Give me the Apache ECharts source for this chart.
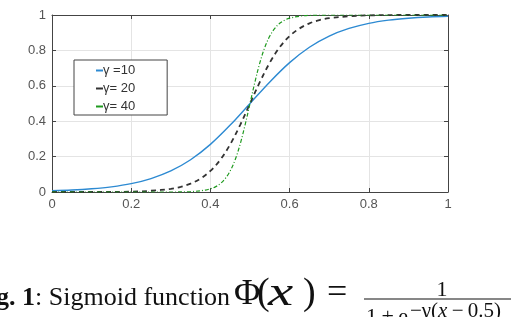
<!DOCTYPE html>
<html>
<head>
<meta charset="utf-8">
<script src="https://cdn.jsdelivr.net/npm/echarts@6/dist/echarts.min.js"></script>
<style>
html,body{margin:0;padding:0;background:#fff;}
#c{width:526px;height:317px;}
</style>
</head>
<body>
<div id="c"></div>
<script>
// ---- data ----
const xTicks = [0, 0.2, 0.4, 0.6, 0.8, 1];
const yTicks = [0, 0.2, 0.4, 0.6, 0.8, 1];
const seriesNames = ['\u03b3 =10', '\u03b3= 20', '\u03b3= 40'];

const x10 = [0,0.05,0.1,0.15,0.2,0.25,0.3,0.35,0.4,0.45,0.5,0.55,0.6,0.65,0.7,0.75,0.8,0.85,0.9,0.95,1];
const y10 = [0.007,0.011,0.018,0.029,0.047,0.076,0.119,0.182,0.269,0.378,0.5,0.622,0.731,0.818,0.881,0.924,0.953,0.971,0.982,0.989,0.993];

const x20 = [0,0.1,0.2,0.25,0.3,0.325,0.35,0.375,0.4,0.425,0.45,0.475,0.5,0.525,0.55,0.575,0.6,0.625,0.65,0.675,0.7,0.75,0.8,0.9,1];
const y20 = [0,0,0.002,0.007,0.018,0.029,0.047,0.076,0.119,0.182,0.269,0.378,0.5,0.622,0.731,0.818,0.881,0.924,0.953,0.971,0.982,0.993,0.998,1,1];

const x40 = [0,0.2,0.3,0.35,0.375,0.3875,0.4,0.4125,0.425,0.4375,0.45,0.4625,0.475,0.4875,0.5,0.5125,0.525,0.5375,0.55,0.5625,0.575,0.5875,0.6,0.625,0.65,0.7,0.8,1];
const y40 = [0,0,0,0.002,0.007,0.011,0.018,0.029,0.047,0.076,0.119,0.182,0.269,0.378,0.5,0.622,0.731,0.818,0.881,0.924,0.953,0.971,0.982,0.993,0.998,1,1,1];

const pairs = (xs, ys) => xs.map((x, i) => [x, ys[i]]);

const chart = echarts.init(document.getElementById('c'), null, {renderer: 'canvas'});
const axisColor = '#444';
const labelColor = '#555';
const sans = 'Liberation Sans, Arial, sans-serif';
const serif = 'Liberation Serif, Times New Roman, serif';

function mainAxis(pos) {
  return {
    type: 'value', min: 0, max: 1, interval: 0.2, position: pos,
    axisLine: {show: true, onZero: false, lineStyle: {color: axisColor, width: 1}},
    axisTick: {show: true, inside: true, length: 4, lineStyle: {color: axisColor}},
    axisLabel: {color: labelColor, fontSize: 13, fontFamily: sans, margin: 6,
      formatter: v => String(+v.toFixed(1))},
    splitLine: {show: true, lineStyle: {color: '#e4e4e4', width: 1}}
  };
}
function sideAxis(pos) {
  return {
    type: 'value', min: 0, max: 1, interval: 0.2, position: pos,
    axisLine: {show: true, onZero: false, lineStyle: {color: axisColor, width: 1}},
    axisTick: {show: true, inside: true, length: 4, lineStyle: {color: axisColor}},
    axisLabel: {show: false},
    splitLine: {show: false}
  };
}

chart.setOption({
  animation: false,
  backgroundColor: '#fff',
  grid: {left: 52, right: 78, top: 15, bottom: 125, containLabel: false},
  xAxis: [mainAxis('bottom'), sideAxis('top')],
  yAxis: [mainAxis('left'), sideAxis('right')],
  legend: {
    orient: 'vertical', left: 74, top: 60,
    data: seriesNames,
    icon: 'rect',
    backgroundColor: '#fff',
    borderColor: '#444', borderWidth: 1, borderRadius: 0,
    padding: [3, 32, 1, 22],
    itemWidth: 7, itemHeight: 2, itemGap: 3,
    textStyle: {color: '#333', fontSize: 13, fontFamily: sans, lineHeight: 15, padding: [0, 0, 0, -5]}
  },
  series: [
    {name: seriesNames[0], type: 'line', data: pairs(x10, y10), symbol: 'none',
     smooth: 0.35,
     lineStyle: {color: '#2d8ad2', width: 1.4}, itemStyle: {color: '#2d8ad2'}},
    {name: seriesNames[1], type: 'line', data: pairs(x20, y20), symbol: 'none',
     smooth: 0.35,
     lineStyle: {color: '#333', width: 1.8, type: [5, 4]}, itemStyle: {color: '#333'}},
    {name: seriesNames[2], type: 'line', data: pairs(x40, y40), symbol: 'none',
     smooth: 0.35,
     lineStyle: {color: '#1f9a1f', width: 1.2, type: [4, 2, 1, 2]}, itemStyle: {color: '#1f9a1f'}}
  ],
  graphic: [
    {type: 'text', left: -27, top: 285, silent: true,
     style: {text: '{b|Fig. 1}{r|: Sigmoid function}', fill: '#111',
       rich: {b: {fontFamily: serif, fontSize: 26, fontWeight: 'bold', fill: '#111'},
              r: {fontFamily: serif, fontSize: 26, fill: '#111'}}}},
    {type: 'text', x: 234, y: 277, silent: true,
     style: {text: '\u03a6', font: '36px ' + serif, fill: '#111', textVerticalAlign: 'top'}},
    {type: 'text', x: 257, y: 275, silent: true,
     style: {text: '(', font: '38px ' + serif, fill: '#111', textVerticalAlign: 'top'}},
    {type: 'text', x: 268, y: 273, scaleX: 1.35, silent: true,
     style: {text: 'x', font: 'italic 42px ' + serif, fill: '#111', textVerticalAlign: 'top'}},
    {type: 'text', x: 303, y: 275, silent: true,
     style: {text: ')', font: '38px ' + serif, fill: '#111', textVerticalAlign: 'top'}},
    {type: 'text', x: 327, y: 276, silent: true,
     style: {text: '=', font: '36px ' + serif, fill: '#111', textVerticalAlign: 'top'}},
    {type: 'text', x: 442, y: 279, silent: true,
     style: {text: '1', font: '22px ' + serif, fill: '#111', textAlign: 'center', textVerticalAlign: 'top'}},
    {type: 'line', silent: true, shape: {x1: 364, y1: 299, x2: 511, y2: 299},
     style: {stroke: '#111', lineWidth: 1.2}},
    {type: 'text', x: 366, y: 306, silent: true,
     style: {text: '1\u2009+\u2009e', font: '22px ' + serif, fill: '#111', textVerticalAlign: 'top'}},
    {type: 'text', x: 410, y: 301, silent: true,
     style: {text: '{m|\u2212\u03b3(}{i|x}{m|\u2009\u2212\u20090.5)}', textVerticalAlign: 'top',
       rich: {m: {fontFamily: serif, fontSize: 21, fill: '#111'},
              i: {fontFamily: serif, fontStyle: 'italic', fontSize: 21, fill: '#111'}}}}
  ]
});
</script>
</body>
</html>
